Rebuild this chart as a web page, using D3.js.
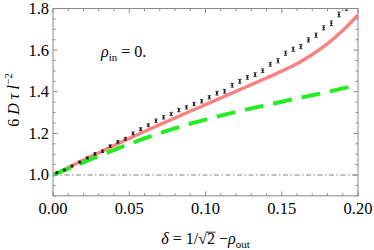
<!DOCTYPE html>
<html><head><meta charset="utf-8">
<script src="https://cdn.jsdelivr.net/npm/d3@7"></script>
<style>html,body{margin:0;padding:0;background:#fff;}svg{display:block;}</style>
</head><body>
<svg id="chart" width="374" height="250"></svg>
<script>
// ---- data ----
const simX = [0.0025,0.0075,0.0125,0.0175,0.0225,0.0275,0.0325,0.0375,0.0425,0.0475,
              0.0525,0.0575,0.0625,0.0675,0.0725,0.0775,0.0825,0.0875,0.0925,0.0975,
              0.1025,0.1075,0.1125,0.1175,0.1225,0.1275,0.1325,0.1375,0.1425,0.1475,
              0.1525,0.1575,0.1625,0.1675,0.1725,0.1775,0.1825,0.1875,0.1925,0.1975];
const simY = [1.011,1.024,1.043,1.062,1.082,1.101,1.114,1.139,1.159,1.174,
              1.200,1.220,1.239,1.261,1.277,1.293,1.312,1.325,1.341,1.354,
              1.373,1.393,1.402,1.431,1.450,1.469,1.482,1.501,1.532,1.549,
              1.585,1.604,1.617,1.649,1.672,1.707,1.729,1.771,1.802,1.835];
const simErr = [0.004,0.004,0.005,0.005,0.005,0.006,0.006,0.006,0.006,0.007,
                0.007,0.007,0.007,0.008,0.008,0.008,0.008,0.008,0.008,0.008,
                0.008,0.009,0.009,0.009,0.009,0.009,0.009,0.009,0.009,0.010,
                0.010,0.010,0.010,0.010,0.010,0.010,0.011,0.011,0.011,0.011];
const curveX = [0,0.01,0.02,0.03,0.04,0.05,0.06,0.07,0.08,0.09,0.10,
                0.11,0.12,0.13,0.14,0.15,0.16,0.17,0.18,0.19,0.20];
const redY   = [1.000,1.036,1.072,1.107,1.142,1.176,1.209,1.242,1.274,1.306,1.338,
                1.370,1.402,1.434,1.466,1.499,1.535,1.579,1.631,1.694,1.769];
const greenY = [1.000,1.031,1.061,1.091,1.120,1.149,1.176,1.201,1.224,1.246,1.266,
                1.285,1.303,1.320,1.336,1.352,1.368,1.383,1.399,1.416,1.433];
const refLevel = 1.0;
const xTickLabels = ["0.00","0.05","0.10","0.15","0.20"];
const yTickLabels = ["1.0","1.2","1.4","1.6","1.8"];

// ---- layout ----
const L = 53, R = 358, T = 8.5, B = 195.8;
const svg = d3.select("#chart");
const x = d3.scaleLinear().domain([0, 0.2]).range([L, R]);
const y = d3.scaleLinear().domain([0.9, 1.8]).range([B, T]);
const serif = "'Liberation Serif','DejaVu Serif',serif";
const frameCol = "#8a8a8a";

svg.append("defs").append("clipPath").attr("id","clip")
  .append("rect").attr("x",L).attr("y",T).attr("width",R-L).attr("height",B-T);

// reference dash-dot line
svg.append("line").attr("x1",L).attr("x2",R).attr("y1",y(refLevel)).attr("y2",y(refLevel))
  .attr("stroke","#808080").attr("stroke-width",1).attr("stroke-dasharray","5,2.5,1.5,2.5");

const plot = svg.append("g").attr("clip-path","url(#clip)");
const line = d3.line().x((d,i)=>x(curveX[i])).y(d=>y(d)).curve(d3.curveMonotoneX);

plot.append("path").attr("d", line(redY)).attr("fill","none")
  .attr("stroke","#fa8282").attr("stroke-width",3.4);
plot.append("path").attr("d", line(greenY)).attr("fill","none")
  .attr("stroke","#22ec22").attr("stroke-width",4).attr("stroke-dasharray","19,10");

// error bars
const eb = plot.append("g").attr("stroke","#222").attr("stroke-width",0.9);
simX.forEach((xv,i)=>{
  const cx = x(xv), y1 = y(simY[i]-simErr[i]), y2 = y(simY[i]+simErr[i]);
  eb.append("line").attr("x1",cx).attr("x2",cx).attr("y1",y1).attr("y2",y2);
  eb.append("line").attr("x1",cx-1.6).attr("x2",cx+1.6).attr("y1",y1).attr("y2",y1);
  eb.append("line").attr("x1",cx-1.6).attr("x2",cx+1.6).attr("y1",y2).attr("y2",y2);
  plot.append("circle").attr("cx",cx).attr("cy",y(simY[i])).attr("r",1.1).attr("fill","#111");
});

// frame + ticks (inward, all four sides)
const axG = svg.append("g");
axG.append("rect").attr("x",L).attr("y",T).attr("width",R-L).attr("height",B-T)
  .attr("fill","none").attr("stroke",frameCol).attr("stroke-width",1);
const xMinor = d3.range(0, 0.2001, 0.01);
xMinor.forEach((v,i)=>{
  const len = (i % 5 === 0) ? 4.5 : 2.5;
  axG.append("line").attr("x1",x(v)).attr("x2",x(v)).attr("y1",B).attr("y2",B-len).attr("stroke",frameCol);
  axG.append("line").attr("x1",x(v)).attr("x2",x(v)).attr("y1",T).attr("y2",T+len).attr("stroke",frameCol);
});
const yMinor = d3.range(0.9, 1.8001, 0.05);
yMinor.forEach((v,i)=>{
  const major = (i % 4 === 2);
  const len = major ? 4.5 : 2.5;
  axG.append("line").attr("y1",y(v)).attr("y2",y(v)).attr("x1",L).attr("x2",L+len).attr("stroke",frameCol);
  axG.append("line").attr("y1",y(v)).attr("y2",y(v)).attr("x1",R).attr("x2",R-len).attr("stroke",frameCol);
});

// tick labels
xTickLabels.forEach(t=>{
  svg.append("text").attr("x",x(+t)).attr("y",214).attr("text-anchor","middle")
    .attr("font-family",serif).attr("font-size",16.5).attr("fill","#000").text(t);
});
yTickLabels.forEach(t=>{
  svg.append("text").attr("x",49).attr("y",y(+t)+5.5).attr("text-anchor","end")
    .attr("font-family",serif).attr("font-size",16.5).attr("fill","#000").text(t);
});

// x axis title
const xt = svg.append("text").attr("y",244).attr("font-family",serif).attr("font-size",16).attr("fill","#000");
xt.append("tspan").attr("font-style","italic").text("δ");
xt.append("tspan").text(" = 1/√");
xt.append("tspan").text("2");
xt.append("tspan").text(" −");
xt.append("tspan").attr("font-style","italic").text("ρ");
xt.append("tspan").attr("font-size",11).attr("dy",3.5).text("out");
const w = xt.node().getComputedTextLength();
xt.attr("x", (L+R)/2 - w/2);
xt.selectAll("tspan").filter((d,i)=>i===0).attr("x",(L+R)/2 - w/2);
// overline over the 2
const idx2 = "δ = 1/√".length;
const ext = xt.node().getExtentOfChar(idx2);
svg.append("line").attr("x1",ext.x-0.5).attr("x2",ext.x+ext.width+0.5)
  .attr("y1",ext.y+2.2).attr("y2",ext.y+2.2).attr("stroke","#000").attr("stroke-width",0.8);

// y axis title
const yt = svg.append("text").attr("transform","translate(19,100) rotate(-90)")
  .attr("text-anchor","middle").attr("font-family",serif).attr("font-size",16).attr("fill","#000");
yt.append("tspan").text("6 ");
yt.append("tspan").attr("font-style","italic").text("D");
yt.append("tspan").text(" ");
yt.append("tspan").attr("font-style","italic").text("τ");
yt.append("tspan").text(" ");
yt.append("tspan").attr("font-style","italic").text("l");
yt.append("tspan").attr("font-size",11).attr("dy",-7).text("−2");

// annotation
const an = svg.append("text").attr("x",101).attr("y",57).attr("font-family",serif).attr("font-size",16).attr("fill","#000");
an.append("tspan").attr("font-style","italic").text("ρ");
an.append("tspan").attr("font-size",11).attr("dy",3.5).text("in");
an.append("tspan").attr("dy",-3.5).text(" = 0.");
</script>
</body></html>
